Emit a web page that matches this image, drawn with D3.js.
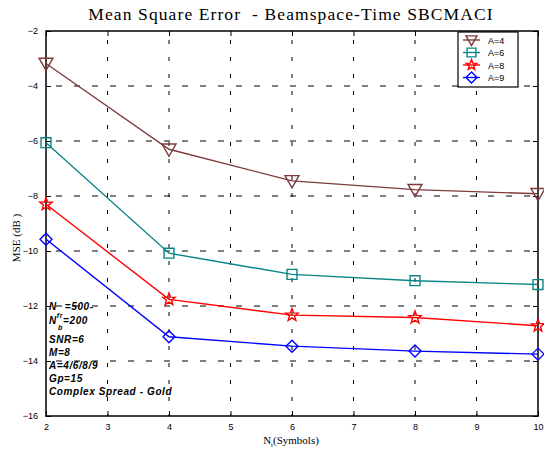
<!DOCTYPE html>
<html><head><meta charset="utf-8">
<script src="https://cdn.jsdelivr.net/npm/d3@7"></script>
<style>body{margin:0;background:#fff;} svg{display:block;}</style>
</head><body>
<script>
const xValues = [2, 4, 6, 8, 10];
const seriesNames = ["A=4", "A=6", "A=8", "A=9"];
const mseA4 = [-3.18, -6.3, -7.45, -7.77, -7.92];
const mseA6 = [-6.06, -10.08, -10.85, -11.08, -11.22];
const mseA8 = [-8.3, -11.76, -12.33, -12.42, -12.72];
const mseA9 = [-9.57, -13.12, -13.46, -13.64, -13.75];
const xTicks = [2, 3, 4, 5, 6, 7, 8, 9, 10];
const yTicks = [-2, -4, -6, -8, -10, -12, -14, -16];
const annotation = ["SNR=6", "M=8", "A=4/6/8/9", "Gp=15", "Complex Spread - Gold"];

const colors = ["#7f3b3b", "#0a8585", "#ff0000", "#0000ff"];
const shapes = ["tri", "sq", "star", "dia"];
const sizes = [7, 6.2, 6.5, 6];
const allSeries = [mseA4, mseA6, mseA8, mseA9];

const W = 544, H = 455;
const m = {l: 46, r: 6, t: 31, b: 39};
const svg = d3.select("body").append("svg").attr("width", W).attr("height", H);
const x = d3.scaleLinear().domain([2, 10]).range([m.l, W - m.r]);
const y = d3.scaleLinear().domain([-16, -2]).range([H - m.b, m.t]);

// grid
const g = svg.append("g");
g.selectAll(".gx").data(xTicks.slice(1, -1)).join("line")
  .attr("x1", d => x(d)).attr("x2", d => x(d)).attr("y1", m.t).attr("y2", H - m.b)
  .attr("stroke", "#000").attr("stroke-width", 1).attr("stroke-dasharray", "4,13").attr("stroke-dashoffset", -9);
g.selectAll(".gy").data(yTicks.slice(1, -1)).join("line")
  .attr("x1", m.l).attr("x2", W - m.r).attr("y1", d => y(d)).attr("y2", d => y(d))
  .attr("stroke", "#000").attr("stroke-width", 1).attr("stroke-dasharray", "6,12").attr("stroke-dashoffset", -10);

// axes
const axB = d3.axisBottom(x).tickValues(xTicks).tickSize(-5).tickPadding(8).tickFormat(d3.format("d"));
const axT = d3.axisTop(x).tickValues(xTicks).tickSize(-5).tickFormat("");
const axL = d3.axisLeft(y).tickValues(yTicks).tickSize(-5).tickPadding(8).tickFormat(d3.format("d"));
const axR = d3.axisRight(y).tickValues(yTicks).tickSize(-5).tickFormat("");
function style(sel){
  sel.selectAll("path").attr("stroke", "#000").attr("stroke-width", 1.5);
  sel.selectAll("line").attr("stroke", "#000").attr("stroke-width", 1);
  sel.selectAll("text").attr("font-family", "Liberation Sans, Arial, sans-serif").attr("font-size", 9).attr("fill", "#000");
}
svg.append("g").attr("transform", `translate(0,${H - m.b})`).call(axB).call(style);
svg.append("g").attr("transform", `translate(0,${m.t})`).call(axT).call(style);
svg.append("g").attr("transform", `translate(${m.l},0)`).call(axL).call(style);
svg.append("g").attr("transform", `translate(${W - m.r},0)`).call(axR).call(style);
svg.selectAll(".domain").attr("d", null);
svg.append("rect").attr("x", m.l).attr("y", m.t).attr("width", W - m.r - m.l).attr("height", H - m.b - m.t)
  .attr("fill", "none").attr("stroke", "#000").attr("stroke-width", 1.5);

// marker
function markerPath(shape, s) {
  if (shape === "tri") return `M${-s},${-s*0.75}L${s},${-s*0.75}L0,${s}Z`;
  if (shape === "sq") { const a = s*0.8; return `M${-a},${-a}L${a},${-a}L${a},${a}L${-a},${a}Z`; }
  if (shape === "dia") return `M0,${-s}L${s},0L0,${s}L${-s},0Z`;
  if (shape === "star") {
    let p = [];
    for (let i = 0; i < 10; i++) {
      const r = i % 2 === 0 ? s : s * 0.42;
      const a = -Math.PI / 2 + i * Math.PI / 5;
      p.push([r * Math.cos(a), r * Math.sin(a)]);
    }
    return "M" + p.map(q => q.join(",")).join("L") + "Z";
  }
}

const line = d3.line().x((d, i) => x(xValues[i])).y(d => y(d));
allSeries.forEach((vals, k) => {
  svg.append("path").datum(vals).attr("d", line).attr("fill", "none")
    .attr("stroke", colors[k]).attr("stroke-width", 1.4);
  svg.selectAll(null).data(vals).join("path")
    .attr("transform", (d, i) => `translate(${x(xValues[i])},${y(d)})`)
    .attr("d", markerPath(shapes[k], sizes[k])).attr("fill", "none")
    .attr("stroke", colors[k]).attr("stroke-width", 1.4);
});

// legend
const lg = svg.append("g");
lg.append("rect").attr("x", 458).attr("y", 32).attr("width", 60).attr("height", 55)
  .attr("fill", "#fff").attr("stroke", "#000").attr("stroke-width", 1.2);
seriesNames.forEach((n, k) => {
  const ly = 40 + k * 12.5;
  lg.append("line").attr("x1", 463).attr("x2", 480).attr("y1", ly).attr("y2", ly)
    .attr("stroke", colors[k]).attr("stroke-width", 1.4);
  lg.append("path").attr("transform", `translate(471.5,${ly})`).attr("d", markerPath(shapes[k], 5.5))
    .attr("fill", "none").attr("stroke", colors[k]).attr("stroke-width", 1.4);
  lg.append("text").attr("x", 488).attr("y", ly + 3.5).text(n)
    .attr("font-family", "Liberation Sans, Arial, sans-serif").attr("font-size", 9).attr("fill", "#000");
});

// title & labels
svg.append("text").attr("x", 291).attr("y", 20).attr("text-anchor", "middle")
  .attr("font-family", "Liberation Serif, Times New Roman, serif").attr("font-size", 17.5)
  .attr("letter-spacing", 1.1)
  .attr("xml:space", "preserve").text("Mean Square Error  - Beamspace-Time SBCMACI");
const xl = svg.append("text").attr("x", 291).attr("y", 444).attr("text-anchor", "middle")
  .attr("font-family", "Liberation Serif, Times New Roman, serif").attr("font-size", 11);
xl.append("tspan").text("N");
xl.append("tspan").attr("dy", 3).attr("font-size", 7).text("t");
xl.append("tspan").attr("dy", -3).text("(Symbols)");
svg.append("text").attr("transform", "translate(20,238) rotate(-90)").attr("text-anchor", "middle")
  .attr("font-family", "Liberation Serif, Times New Roman, serif").attr("font-size", 11)
  .attr("xml:space", "preserve").text("MSE (dB )");

// annotation
const af = {"font-family": "Liberation Sans, Arial, sans-serif", "font-size": 10, "font-weight": "bold", "font-style": "italic", "letter-spacing": 0.6};
function ann(t){ Object.entries(af).forEach(([k,v]) => t.attr(k, v)); return t; }
const t1 = ann(svg.append("text").attr("x", 49).attr("y", 310));
t1.append("tspan").text("N");
t1.append("tspan").attr("dx", 8).text("=500-");
const t2 = ann(svg.append("text").attr("x", 49).attr("y", 324));
t2.append("tspan").text("N");
t2.append("tspan").attr("dy", -6).attr("font-size", 7).text("fr");
t2.append("tspan").attr("dy", 6).text("=200");
t2.append("tspan").attr("x", 58).attr("dy", 6).attr("font-size", 7).text("b");
annotation.forEach((s, i) => {
  ann(svg.append("text").attr("x", 49).attr("y", 343 + i * 13)).text(s);
});
</script>
</body></html>
